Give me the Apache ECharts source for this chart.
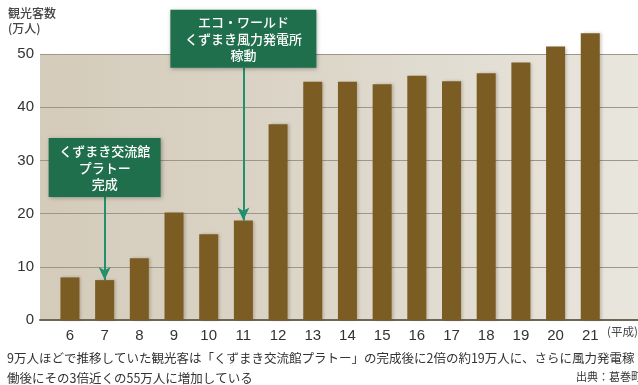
<!DOCTYPE html>
<html><head><meta charset="utf-8">
<script src="https://cdn.jsdelivr.net/npm/echarts@6/dist/echarts.min.js"></script>
<style>html,body{margin:0;padding:0;background:#fff}#c{width:638px;height:385px}</style>
</head><body><div id="c"></div>
<script>
const years = ['6','7','8','9','10','11','12','13','14','15','16','17','18','19','20','21'];
const visitors = [8.0, 7.5, 11.6, 20.2, 16.1, 18.7, 36.8, 44.8, 44.8, 44.3, 45.9, 44.9, 46.4, 48.4, 51.4, 53.9];
const yTicks = [0, 10, 20, 30, 40, 50];
const annotations = [
  { year: '7', value: 7.5, lines: ['くずまき交流館', 'プラトー', '完成'] },
  { year: '11', value: 18.7, lines: ['エコ・ワールド', 'くずまき風力発電所', '稼動'] }
];
const captionLines = [
  '9万人ほどで推移していた観光客は「くずまき交流館プラトー」の完成後に2倍の約19万人に、さらに風力発電稼',
  '働後にその3倍近くの55万人に増加している'
];
const source = '出典：葛巻町';

const FONT_NUM = '"Liberation Sans", Arial, sans-serif';
const FONT_JP = '"Noto Sans CJK JP", sans-serif';
const GREEN = '#1f6e4c';
const ARROW = '#23906c';

const chart = echarts.init(document.getElementById('c'), null, { renderer: 'canvas' });
const opt = {
  backgroundColor: '#ffffff',
  animation: false,
  grid: [
    { left: 52.6, right: 30.4, top: 54, bottom: 65 },
    { left: 40, right: 0, top: 54, bottom: 65, show: true, borderWidth: 0,
      backgroundColor: { type: 'linear', x: 0, y: 0, x2: 1, y2: 0,
        colorStops: [{ offset: 0, color: '#d4cbba' }, { offset: 0.5, color: '#ddd7ca' }, { offset: 1, color: '#e9e6de' }] } }
  ],
  xAxis: [
    { type: 'category', gridIndex: 0, data: years, boundaryGap: true,
      axisLine: { show: false }, axisTick: { show: false },
      axisLabel: { color: '#333', fontSize: 15, fontFamily: FONT_NUM, margin: 8 } },
    { type: 'value', gridIndex: 1, min: 0, max: 1, axisLabel: { show: false }, axisTick: { show: false },
      splitLine: { show: false }, axisLine: { show: true, lineStyle: { color: '#6e6553', width: 2 } } }
  ],
  yAxis: [
    { type: 'value', gridIndex: 0, min: 0, max: 50, interval: 10, show: false },
    { type: 'value', gridIndex: 1, min: 0, max: 50, interval: 10,
      axisLine: { show: false }, axisTick: { show: false },
      axisLabel: { color: '#333', fontSize: 15, fontFamily: FONT_NUM, margin: 6,
        customValues: yTicks },
      splitLine: { show: true, lineStyle: { color: '#9c968b', width: 1 } } }
  ],
  series: [
    { type: 'bar', xAxisIndex: 0, yAxisIndex: 0, data: visitors, barWidth: 19, clip: false,
      itemStyle: { color: '#7b5c23', shadowColor: 'rgba(60,40,10,0.25)', shadowBlur: 3, shadowOffsetX: 2 },
      markLine: {
        silent: true, symbol: ['none', 'arrow'], symbolSize: [9, 13],
        lineStyle: { color: ARROW, width: 2, type: 'solid' }, label: { show: false },
        data: [
          [{ coord: [annotations[0].year, 23.1] }, { coord: [annotations[0].year, annotations[0].value] }],
          [{ coord: [annotations[1].year, 47.4] }, { coord: [annotations[1].year, annotations[1].value] }]
        ]
      }
    }
  ],
  graphic: []
};
chart.setOption(opt);

const boxSpecs = [
  { w: 112, h: 59, bottomVal: 23.1 },
  { w: 146, h: 58, bottomVal: 47.4 }
];
const g = [];
annotations.forEach((a, i) => {
  const cx = chart.convertToPixel({ xAxisIndex: 0 }, a.year);
  const by = chart.convertToPixel({ yAxisIndex: 0 }, boxSpecs[i].bottomVal);
  const w = boxSpecs[i].w, h = boxSpecs[i].h;
  g.push({ type: 'rect', shape: { x: cx - w / 2, y: by - h, width: w, height: h },
    style: { fill: GREEN, shadowBlur: 4, shadowColor: 'rgba(0,0,0,0.3)', shadowOffsetX: 1, shadowOffsetY: 1 }, z: 10 });
  g.push({ type: 'text', x: cx, y: by - h / 2, z: 11,
    style: { text: a.lines.join('\n'), fill: '#fff', font: '500 13px ' + FONT_JP, lineHeight: 16.5,
      align: 'center', verticalAlign: 'middle' } });
});
g.push({ type: 'text', x: 8, y: 6, style: { text: '観光客数\n(万人)', fill: '#444', font: '500 12px ' + FONT_JP, lineHeight: 15 } });
g.push({ type: 'text', x: 607, y: 326, style: { text: '(平成)', fill: '#444', font: '11.5px ' + FONT_JP } });
g.push({ type: 'text', x: 7, y: 348, style: { text: captionLines.join('\n'), fill: '#333', font: '12.5px ' + FONT_JP, lineHeight: 20 } });
g.push({ type: 'text', x: 576, y: 371, style: { text: source, fill: '#333', font: '11px ' + FONT_JP } });
chart.setOption({ graphic: g });
</script>
</body></html>
